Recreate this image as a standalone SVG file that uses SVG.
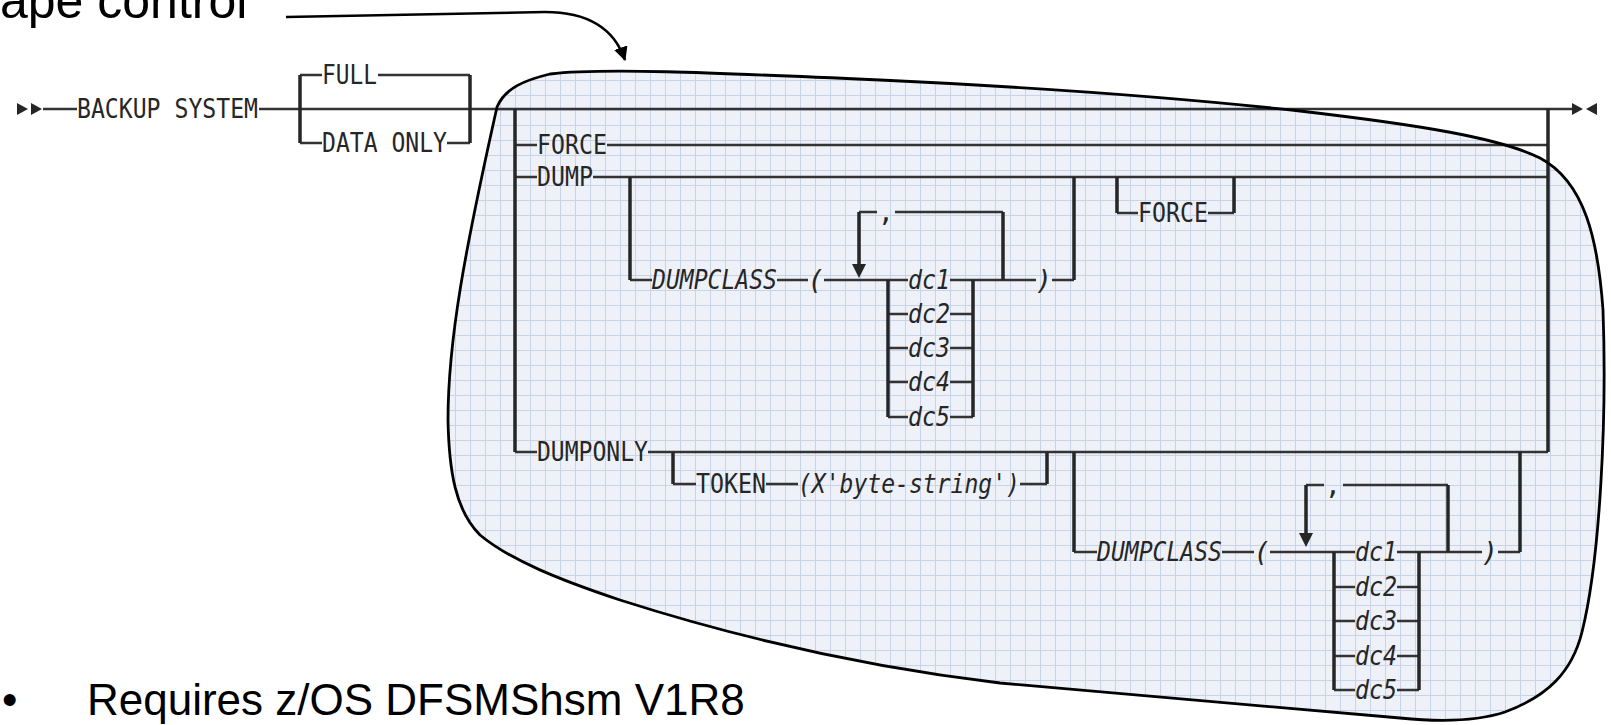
<svg xmlns="http://www.w3.org/2000/svg" width="1611" height="725" viewBox="0 0 1611 725">
<defs>
<pattern id="grid" width="15" height="15" patternUnits="userSpaceOnUse" x="5" y="5">
<rect width="15" height="15" fill="#eef1f8"/>
<path d="M0 0.5H15M0.5 0V15" stroke="#c8d3e8" stroke-width="1" fill="none"/>
</pattern>
<marker id="ah" markerWidth="16" markerHeight="16" refX="13" refY="7" orient="auto" markerUnits="userSpaceOnUse">
<path d="M0,0 L14,7 L0,14 Z" fill="#000"/>
</marker>
<path id="lasso" d="M497,107 C505,88 525,80 550,74 C600,68 700,72 880,80 C1050,88 1200,100 1300,111 C1420,125 1500,138 1540,158 C1585,182 1598,240 1603,310 C1607,420 1600,560 1582,632 C1572,672 1548,696 1505,712 C1475,722 1440,722 1400,718 C1250,705 1100,693 1000,683 C850,665 720,632 620,600 C560,580 510,560 480,535 C455,510 449,470 448,420 C448,340 465,250 497,107 Z"/>
</defs>
<style>
.t{font-family:"DejaVu Sans Mono","Liberation Mono",monospace;font-size:27px;fill:#262626}
.i{font-style:italic}
.m{text-anchor:middle}
.c{stroke:#333;stroke-width:2.5;fill:none}
.b{stroke:#262626;stroke-width:3.5;fill:none}
.big{font-family:"Liberation Sans",Arial,sans-serif;fill:#000}
.mk{fill:#262626}
</style>
<rect width="1611" height="725" fill="#fff"/>

<g id="lasso-fill">
<use href="#lasso" fill="url(#grid)" stroke="none"/>
</g>

<g id="connectors">
<path class="c" d="M43,109H77 M259,109H1572
M300,75H322 M378,75H470 M300,143H322 M447,143H470
M515,145H537 M607,145H1548
M515,177H537 M593,177H1548
M515,452H537 M648,452H1548
M630,280H652 M777,280H808 M824,280H908 M950,280H1036 M1052,280H1074
M888,314H908 M950,314H973 M888,348H908 M950,348H973 M888,382H908 M950,382H973 M888,417H908 M950,417H973
M859,212H877 M895,212H1003
M1117,213H1138 M1208,213H1234
M673,484H696 M766,484H798 M1020,484H1047
M1074,552H1097 M1222,552H1254 M1270,552H1355 M1397,552H1482 M1498,552H1520
M1334,587H1355 M1397,587H1419 M1334,621H1355 M1397,621H1419 M1334,656H1355 M1397,656H1419 M1334,690H1355 M1397,690H1419
M1306,485H1324 M1343,485H1448"/>
<path class="b" d="M300,75V143 M470,75V143 M515,109V452 M1548,109V452
M630,177V280 M1074,177V280 M888,280V417 M973,280V417 M859,212V266 M1003,212V280
M1117,177V213 M1234,213V177
M673,452V484 M1047,484V452
M1074,452V552 M1520,452V552 M1334,552V690 M1419,552V690 M1306,485V534 M1448,485V552"/>
<polygon class="mk" points="852,264 866,264 859,278"/>
<polygon class="mk" points="1299,533 1313,533 1306,547"/>
<polygon class="mk" points="17,103 28,109 17,115"/>
<polygon class="mk" points="31,103 42,109 31,115"/>
<polygon class="mk" points="1572,103 1583,109 1572,115"/>
<polygon class="mk" points="1597,103 1586,109 1597,115"/>
<path d="M286,17 L545,12 C588,12 614,28 625,60" fill="none" stroke="#000" stroke-width="2.5" marker-end="url(#ah)"/>
</g>

<g id="lasso-outline">
<use href="#lasso" fill="none" stroke="#000" stroke-width="2.8"/>
</g>

<g id="n-backup"><text class="t" x="77" y="118" textLength="181" lengthAdjust="spacingAndGlyphs">BACKUP SYSTEM</text></g>
<g id="n-full"><text class="t" x="322" y="84" textLength="55" lengthAdjust="spacingAndGlyphs">FULL</text></g>
<g id="n-dataonly"><text class="t" x="322" y="152" textLength="125" lengthAdjust="spacingAndGlyphs">DATA ONLY</text></g>
<g id="n-force"><text class="t" x="537" y="154" textLength="70" lengthAdjust="spacingAndGlyphs">FORCE</text></g>
<g id="n-dump"><text class="t" x="537" y="186" textLength="56" lengthAdjust="spacingAndGlyphs">DUMP</text></g>
<g id="n-dumponly"><text class="t" x="537" y="461" textLength="111" lengthAdjust="spacingAndGlyphs">DUMPONLY</text></g>

<g id="n-dumpclass1">
<text class="t i" x="652" y="289" textLength="125" lengthAdjust="spacingAndGlyphs">DUMPCLASS</text>
<text class="t i m" x="816" y="289">(</text>
<text class="t m" x="886" y="221">,</text>
<text class="t i" x="908" y="289" textLength="42" lengthAdjust="spacingAndGlyphs">dc1</text>
<text class="t i" x="908" y="323" textLength="42" lengthAdjust="spacingAndGlyphs">dc2</text>
<text class="t i" x="908" y="357" textLength="42" lengthAdjust="spacingAndGlyphs">dc3</text>
<text class="t i" x="908" y="391" textLength="42" lengthAdjust="spacingAndGlyphs">dc4</text>
<text class="t i" x="908" y="426" textLength="42" lengthAdjust="spacingAndGlyphs">dc5</text>
<text class="t i m" x="1044" y="289">)</text>
</g>
<g id="n-force2"><text class="t" x="1138" y="222" textLength="70" lengthAdjust="spacingAndGlyphs">FORCE</text></g>

<g id="n-token">
<text class="t" x="696" y="493" textLength="70" lengthAdjust="spacingAndGlyphs">TOKEN</text>
<text class="t i" x="798" y="493" textLength="222" lengthAdjust="spacingAndGlyphs">(X'byte-string')</text>
</g>

<g id="n-dumpclass2">
<text class="t i" x="1097" y="561" textLength="125" lengthAdjust="spacingAndGlyphs">DUMPCLASS</text>
<text class="t i m" x="1262" y="561">(</text>
<text class="t m" x="1333" y="494">,</text>
<text class="t i" x="1355" y="561" textLength="42" lengthAdjust="spacingAndGlyphs">dc1</text>
<text class="t i" x="1355" y="596" textLength="42" lengthAdjust="spacingAndGlyphs">dc2</text>
<text class="t i" x="1355" y="630" textLength="42" lengthAdjust="spacingAndGlyphs">dc3</text>
<text class="t i" x="1355" y="665" textLength="42" lengthAdjust="spacingAndGlyphs">dc4</text>
<text class="t i" x="1355" y="699" textLength="42" lengthAdjust="spacingAndGlyphs">dc5</text>
<text class="t i m" x="1490" y="561">)</text>
</g>

<g id="n-title"><text class="big" x="0" y="18" font-size="50">ape control</text></g>
<g id="n-bullet">
<text class="big" x="2" y="715" font-size="44">•</text>
<text class="big" x="87" y="715" font-size="44">Requires z/OS DFSMShsm V1R8</text>
</g>
</svg>
